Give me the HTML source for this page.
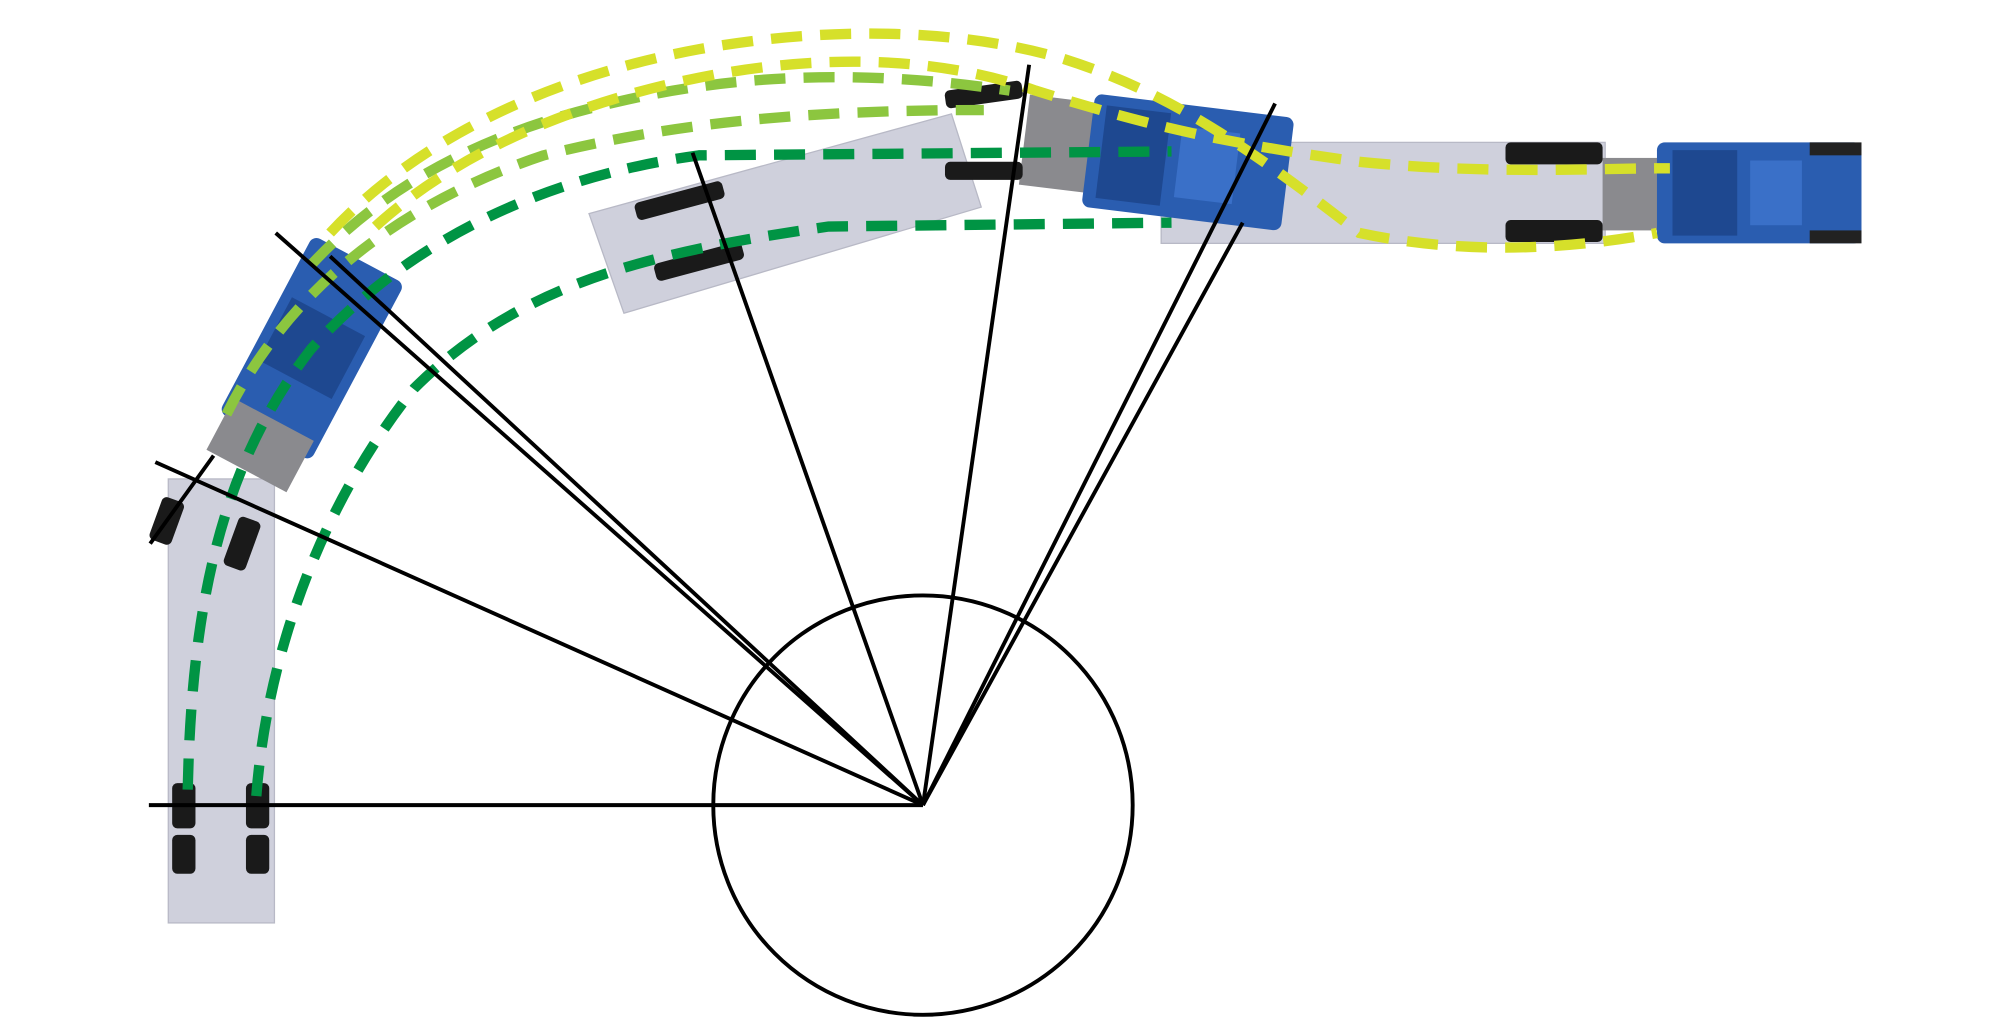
<!DOCTYPE html>
<html><head><meta charset="utf-8"><style>html,body{margin:0;padding:0;background:#fff}svg{display:block}</style></head>
<body>
<svg width="2000" height="1020" viewBox="0 0 1545 788" preserveAspectRatio="none" xmlns="http://www.w3.org/2000/svg">
<rect width="1545" height="788" fill="#fff"/>
<g fill="#cfd0dc" stroke="#b8b9c6" stroke-width="1">
<rect x="130" y="370" width="82" height="343"/>
<polygon points="455,165 735,88 758,160 482,242"/>
<rect x="897" y="110" width="343" height="78"/>
</g>
<g>
<rect x="1238" y="122" width="48" height="56" fill="#8a8a8e"/>
<rect x="1280" y="110" width="158" height="78" rx="6" fill="#2a5db0"/>
<rect x="1292" y="116" width="50" height="66" fill="#1e4890"/>
<rect x="1352" y="124" width="40" height="50" fill="#3a70c8"/>
<rect x="1398" y="110" width="40" height="10" fill="#222"/>
<rect x="1398" y="178" width="40" height="10" fill="#222"/>
</g>
<g transform="rotate(7 890 125)">
<rect x="790" y="85" width="60" height="70" fill="#8a8a8e"/>
<rect x="840" y="78" width="155" height="88" rx="6" fill="#2a5db0"/>
<rect x="850" y="86" width="50" height="72" fill="#1e4890"/>
<rect x="910" y="95" width="45" height="55" fill="#3a70c8"/>
</g>
<g transform="rotate(28 235 280)">
<rect x="195" y="190" width="80" height="155" rx="6" fill="#2a5db0"/>
<rect x="203" y="240" width="64" height="55" fill="#1e4890"/>
<rect x="200" y="330" width="70" height="45" fill="#8a8a8e"/>
</g>
<g fill="#1a1a1a">
<rect x="133" y="605" width="18" height="35" rx="4"/><rect x="133" y="645" width="18" height="30" rx="4"/>
<rect x="190" y="605" width="18" height="35" rx="4"/><rect x="190" y="645" width="18" height="30" rx="4"/>
<rect x="120" y="385" width="18" height="35" rx="4" transform="rotate(20 129 402)"/>
<rect x="178" y="400" width="18" height="40" rx="4" transform="rotate(20 187 420)"/>
<rect x="490" y="148" width="70" height="14" rx="4" transform="rotate(-15 525 155)"/>
<rect x="505" y="195" width="70" height="14" rx="4" transform="rotate(-15 540 202)"/>
<rect x="730" y="66" width="60" height="14" rx="4" transform="rotate(-8 760 73)"/>
<rect x="730" y="125" width="60" height="14" rx="4"/>
<rect x="1163" y="110" width="75" height="17" rx="4"/><rect x="1163" y="170" width="75" height="17" rx="4"/>
</g>
<g fill="none" stroke-width="8" stroke-dasharray="24 14">
<path d="M198,615 C205,520 240,400 320,300 C400,220 500,195 640,175 L905,172" stroke="#009444"/>
<path d="M145,610 C148,470 170,360 240,270 C320,180 430,135 540,120 L905,117" stroke="#009444"/>
<path d="M175,320 C220,230 300,160 420,120 C520,95 620,85 760,85" stroke="#8cc63f"/>
<path d="M240,205 C300,140 380,100 480,78 C580,55 680,55 780,70" stroke="#8cc63f"/>
<path d="M255,180 C320,110 420,60 540,38 C640,20 740,22 820,45 C900,70 960,110 1050,180 C1120,195 1200,195 1280,180" stroke="#d6e02a"/>
<path d="M290,175 C350,120 440,80 540,60 C640,40 730,45 800,70 C880,95 940,110 1050,125 C1150,135 1230,130 1290,130" stroke="#d6e02a"/>
</g>
<g stroke="#000" stroke-width="3" fill="none">
<circle cx="713" cy="622" r="162"/>
<line x1="713" y1="622" x2="115" y2="622"/>
<line x1="713" y1="622" x2="120" y2="357"/>
<line x1="713" y1="622" x2="213" y2="180"/>
<line x1="713" y1="622" x2="255" y2="198"/>
<line x1="713" y1="622" x2="535" y2="118"/>
<line x1="713" y1="622" x2="795" y2="50"/>
<line x1="713" y1="622" x2="985" y2="80"/>
<line x1="713" y1="622" x2="960" y2="172"/>
<line x1="116" y1="420" x2="165" y2="352"/>
</g>
</svg>
</body></html>
